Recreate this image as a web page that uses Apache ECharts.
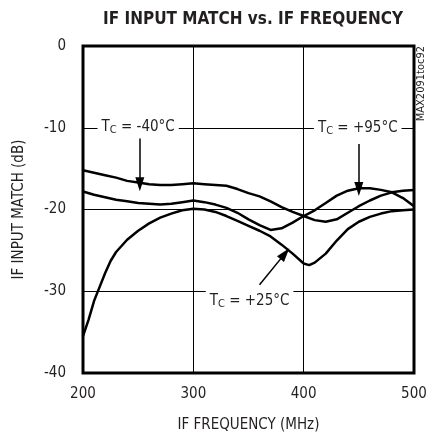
<!DOCTYPE html>
<html><head><meta charset="utf-8">
<script src="https://cdn.jsdelivr.net/npm/echarts@6/dist/echarts.min.js"></script>
<style>html,body{margin:0;padding:0;background:#fff}#c{width:432px;height:438px}</style>
</head><body><div id="c"></div>
<script>
const freqM40 = [200,210,220,230,240,250,260,270,280,290,300,310,320,330,340,350,360,370,380,390,400,410,420,430,440,450,460,470,480,490,500];
const valM40 = [-15.2,-15.5,-15.8,-16.1,-16.5,-16.7,-16.9,-17.0,-17.0,-16.9,-16.8,-16.9,-17.0,-17.1,-17.5,-18.0,-18.4,-19.0,-19.7,-20.3,-20.8,-21.3,-21.5,-21.2,-20.4,-19.6,-18.9,-18.3,-17.9,-17.7,-17.6];
const freqP95 = [200,210,220,230,240,250,260,270,280,290,300,310,320,330,340,350,360,370,380,390,400,410,420,430,440,450,460,470,480,490,500];
const valP95 = [-17.8,-18.2,-18.5,-18.8,-19.0,-19.2,-19.3,-19.4,-19.3,-19.1,-18.9,-19.1,-19.4,-19.8,-20.4,-21.2,-21.9,-22.5,-22.3,-21.6,-20.8,-20.1,-19.2,-18.3,-17.7,-17.4,-17.4,-17.6,-17.9,-18.6,-19.6];
const freqP25 = [200,205,210,215,220,225,230,240,250,260,270,280,290,300,310,320,330,340,350,360,370,380,390,400,405,410,420,430,440,450,460,470,480,490,500];
const valP25 = [-35.5,-33.5,-31.2,-29.5,-27.8,-26.3,-25.2,-23.7,-22.6,-21.7,-21.0,-20.5,-20.1,-19.9,-20.0,-20.3,-20.8,-21.4,-22.0,-22.6,-23.3,-24.3,-25.4,-26.6,-26.8,-26.5,-25.4,-23.8,-22.4,-21.5,-20.9,-20.5,-20.2,-20.1,-20.0];
const xTicks = [200,300,400,500];
const yTicks = [0,-10,-20,-30,-40];
const labels = [
  {name:'-40', text:' = -40°C', at:[250,-9.9], arrow:[[251.5,-11.3],[251.5,-16.9]]},
  {name:'+95', text:' = +95°C', at:[449,-10.0], arrow:[[450,-12.0],[450,-17.5]]},
  {name:'+25', text:' = +25°C', at:[351,-31.2], arrow:[[360,-29.2],[383,-25.4]]}
];

const FONT = '"Liberation Sans Narrow","DejaVu Sans Condensed","Liberation Sans",sans-serif';
const TXT = '#231f20';
function zip(a,b){return a.map((v,i)=>[v,b[i]]);}

function annot(l){
  return {
    markPoint:{
      symbol:'circle', symbolSize:0, silent:true, animation:false,
      data:[{coord:l.at, value:0}],
      label:{
        show:true, position:'inside', backgroundColor:'#fff', padding:[1,4,1,4],
        formatter:'{t|T}{s|C}{t|'+l.text+'}',
        rich:{
          t:{fontFamily:FONT, fontSize:15, color:TXT, lineHeight:18},
          s:{fontFamily:FONT, fontSize:11, color:TXT, padding:[6,0,0,0], lineHeight:18}
        }
      }
    },
    markLine:{
      silent:true, animation:false,
      symbol:['none','triangle'], symbolSize:[9,14],
      lineStyle:{color:'#000', width:1.5, type:'solid'},
      label:{show:false},
      data:[[{coord:l.arrow[0]},{coord:l.arrow[1]}]]
    }
  };
}

const chart = echarts.init(document.getElementById('c'), null, {renderer:'canvas'});
const lineStyle = {color:'#000', width:2.5};
chart.setOption({
  animation:false,
  title:{text:'IF INPUT MATCH vs. IF FREQUENCY', left:98, top:6,
    textStyle:{fontFamily:FONT, fontWeight:'bold', fontSize:17, color:TXT}},
  grid:{left:83, right:18, top:46, bottom:61, show:true, borderColor:'#000', borderWidth:3, backgroundColor:'transparent'},
  xAxis:{type:'value', min:200, max:500, interval:100,
    name:'IF FREQUENCY (MHz)', nameLocation:'middle', nameGap:45,
    nameTextStyle:{fontFamily:FONT, fontSize:15, color:TXT},
    axisLine:{show:false}, axisTick:{show:false},
    axisLabel:{fontFamily:FONT, fontSize:15, color:TXT, margin:14,
      formatter:v=>xTicks.includes(v)?String(v):''},
    splitLine:{show:true, lineStyle:{color:'#000', width:1}}},
  yAxis:{type:'value', min:-40, max:0, interval:10,
    name:'IF INPUT MATCH (dB)', nameLocation:'middle', nameGap:56,
    nameTextStyle:{fontFamily:FONT, fontSize:15, color:TXT},
    axisLine:{show:false}, axisTick:{show:false},
    axisLabel:{fontFamily:FONT, fontSize:15, color:TXT, margin:17,
      formatter:v=>yTicks.includes(v)?String(v):''},
    splitLine:{show:true, lineStyle:{color:'#000', width:1}}},
  graphic:[{type:'text', left:416, top:46, rotation:Math.PI/2,
    style:{text:'MAX2091toc92', fontFamily:FONT, fontSize:11, fill:TXT}}],
  series:[
    Object.assign({type:'line', name:'-40', data:zip(freqM40,valM40), showSymbol:false, symbol:'none', lineStyle, z:3}, annot(labels[0])),
    Object.assign({type:'line', name:'+95', data:zip(freqP95,valP95), showSymbol:false, symbol:'none', lineStyle, z:3}, annot(labels[1])),
    Object.assign({type:'line', name:'+25', data:zip(freqP25,valP25), showSymbol:false, symbol:'none', lineStyle, z:3}, annot(labels[2]))
  ]
});
</script></body></html>
